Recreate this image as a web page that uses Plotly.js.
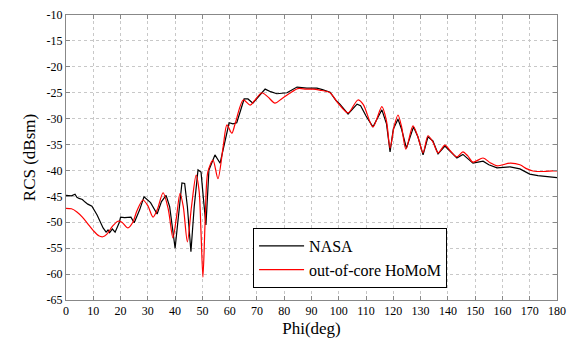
<!DOCTYPE html>
<html>
<head>
<meta charset="utf-8">
<script src="https://cdn.plot.ly/plotly-3.0.1.min.js"></script>
<style>html,body{margin:0;padding:0;background:#fff;}#chart{width:572px;height:349px;}</style>
</head>
<body>
<div id="chart"></div>
<script>
const nasaPhi = [0,2,3.3,4,4.8,6,7,8,9.5,11.4,13.6,14.7,15.4,16,17,18,19.5,20,21.5,23.8,25,27,28.6,31,33.4,35,36.7,38,40,41,42.5,43.5,44.5,45.8,47,48.4,49.5,50.3,51.3,52.4,54.6,56.5,58.3,59.8,61.2,62.6,65.3,66.7,68.5,70.5,73,75,77.3,81,84.7,88.3,92,94,96.8,99,100.4,103.4,106.7,108,110,112.5,115.8,117.5,118.8,120,121.7,123,124.8,127.4,129,130.9,132.7,134.5,136.4,138.9,141,143.3,145.5,147,149.2,152.9,155,158,162.8,166.4,170,173,178.5,180];
const nasaRCS = [-44.8,-44.9,-44.6,-45.2,-45.4,-45.6,-46.1,-46.5,-46.9,-48.6,-51.1,-51.9,-51.5,-52.0,-51.3,-51.9,-50.1,-49.0,-49.1,-49.0,-50.1,-47.6,-45.1,-46.2,-48.4,-46.0,-44.8,-47.0,-55.0,-50.0,-42.4,-42.5,-47.0,-55.7,-47.0,-39.9,-40.3,-45.0,-50.5,-39.9,-37.0,-38.6,-34.1,-30.8,-31.0,-30.8,-26.2,-26.2,-27.0,-25.8,-24.3,-24.8,-25.2,-25.0,-23.9,-24.1,-24.1,-24.4,-24.9,-26.5,-27.2,-29.1,-27.2,-27.5,-29.5,-31.6,-28.3,-31.0,-36.4,-32.0,-30.1,-32.0,-35.7,-31.6,-33.5,-37.0,-33.5,-34.3,-36.8,-35.3,-36.5,-37.6,-36.9,-37.6,-38.6,-38.2,-38.9,-39.5,-39.3,-39.7,-40.7,-41.0,-41.3,-41.4];

const homomPhi = [0,2,4,6,8,10,12,13.5,15,17,19,20.5,22.7,24.5,26,28.2,30,31.9,33.5,35.6,37.5,39.2,40.5,41.8,43,44.5,46,47.7,48.8,49.5,50.2,51,52,53.9,55.7,57.6,59,60.8,62,65,67.5,69,71.8,74,76.6,79,82,85,88,90.5,93,96.8,99.7,103.4,107,109,112.5,115.8,117.5,118.8,120.3,121.7,123,124.6,127.2,129,130.9,132.7,134.5,136.4,138.9,141,143.3,145.5,147.3,149.2,152.9,155.5,158,162.8,166.4,169,171.2,175,178.5,180];
const homomRCS = [-47.3,-47.4,-48.0,-49.0,-50.3,-51.6,-52.6,-52.8,-52.3,-50.8,-49.8,-50.0,-51.1,-50.0,-47.8,-45.7,-46.8,-49.0,-47.5,-44.3,-47.5,-53.0,-49.0,-44.4,-47.0,-53.8,-47.0,-40.9,-44.0,-52.0,-60.6,-50.0,-40.3,-38.0,-41.6,-35.5,-31.2,-32.8,-31.0,-26.4,-27.4,-26.6,-25.0,-25.8,-27.0,-26.2,-25.1,-24.2,-24.3,-24.3,-24.5,-25.0,-27.0,-28.9,-26.4,-27.3,-31.6,-27.7,-30.5,-35.7,-31.5,-29.3,-31.5,-35.9,-31.4,-33.5,-36.6,-33.3,-34.5,-36.6,-35.1,-36.3,-37.4,-36.4,-37.2,-38.4,-37.6,-38.5,-39.1,-38.6,-38.9,-39.7,-40.1,-40.2,-40.1,-40.1];

const xTicks = [0,10,20,30,40,50,60,70,80,90,100,110,120,130,140,150,160,170,180];
const yTicks = [-65,-60,-55,-50,-45,-40,-35,-30,-25,-20,-15,-10];

const traces = [
  {x: nasaPhi, y: nasaRCS, name: 'NASA', type: 'scatter', mode: 'lines',
   line: {color: '#000000', width: 1.2}},
  {x: homomPhi, y: homomRCS, name: 'out-of-core HoMoM', type: 'scatter', mode: 'lines',
   line: {color: '#ff0000', width: 1.2, shape: 'spline', smoothing: 0.8}}
];

const fontFam = 'Liberation Serif';
const axisCommon = {
  showline: true, linecolor: '#888', linewidth: 1, mirror: 'ticks',
  ticks: 'inside', ticklen: 4, tickcolor: '#888',
  showgrid: true, gridcolor: '#c8c8c8', griddash: 'dot', gridwidth: 1,
  zeroline: false, tickfont: {family: fontFam, size: 12, color: '#000'}
};

const layout = {
  width: 572, height: 349,
  margin: {l: 66, r: 15, t: 15, b: 49},
  paper_bgcolor: '#fff', plot_bgcolor: '#fff',
  font: {family: fontFam, color: '#000'},
  showlegend: true,
  legend: {x: 0.381, xanchor: 'left', y: 0.2526, yanchor: 'top',
    bgcolor: '#fff', bordercolor: '#000', borderwidth: 1,
    itemwidth: 45, entrywidth: 200, entrywidthmode: 'pixels',
    font: {family: fontFam, size: 16, color: '#000'}, tracegroupgap: 0},
  xaxis: Object.assign({}, axisCommon, {
    range: [0, 180], tickvals: xTicks, ticktext: xTicks.map(String),
    title: {text: 'Phi(deg)', font: {family: fontFam, size: 17}, standoff: 4}
  }),
  yaxis: Object.assign({}, axisCommon, {
    range: [-65, -10], tickvals: yTicks, ticktext: yTicks.map(String),
    title: {text: 'RCS (dBsm)', font: {family: fontFam, size: 17}, standoff: 6}
  })
};

Plotly.newPlot('chart', traces, layout, {displayModeBar: false, staticPlot: true});
</script>
</body>
</html>
